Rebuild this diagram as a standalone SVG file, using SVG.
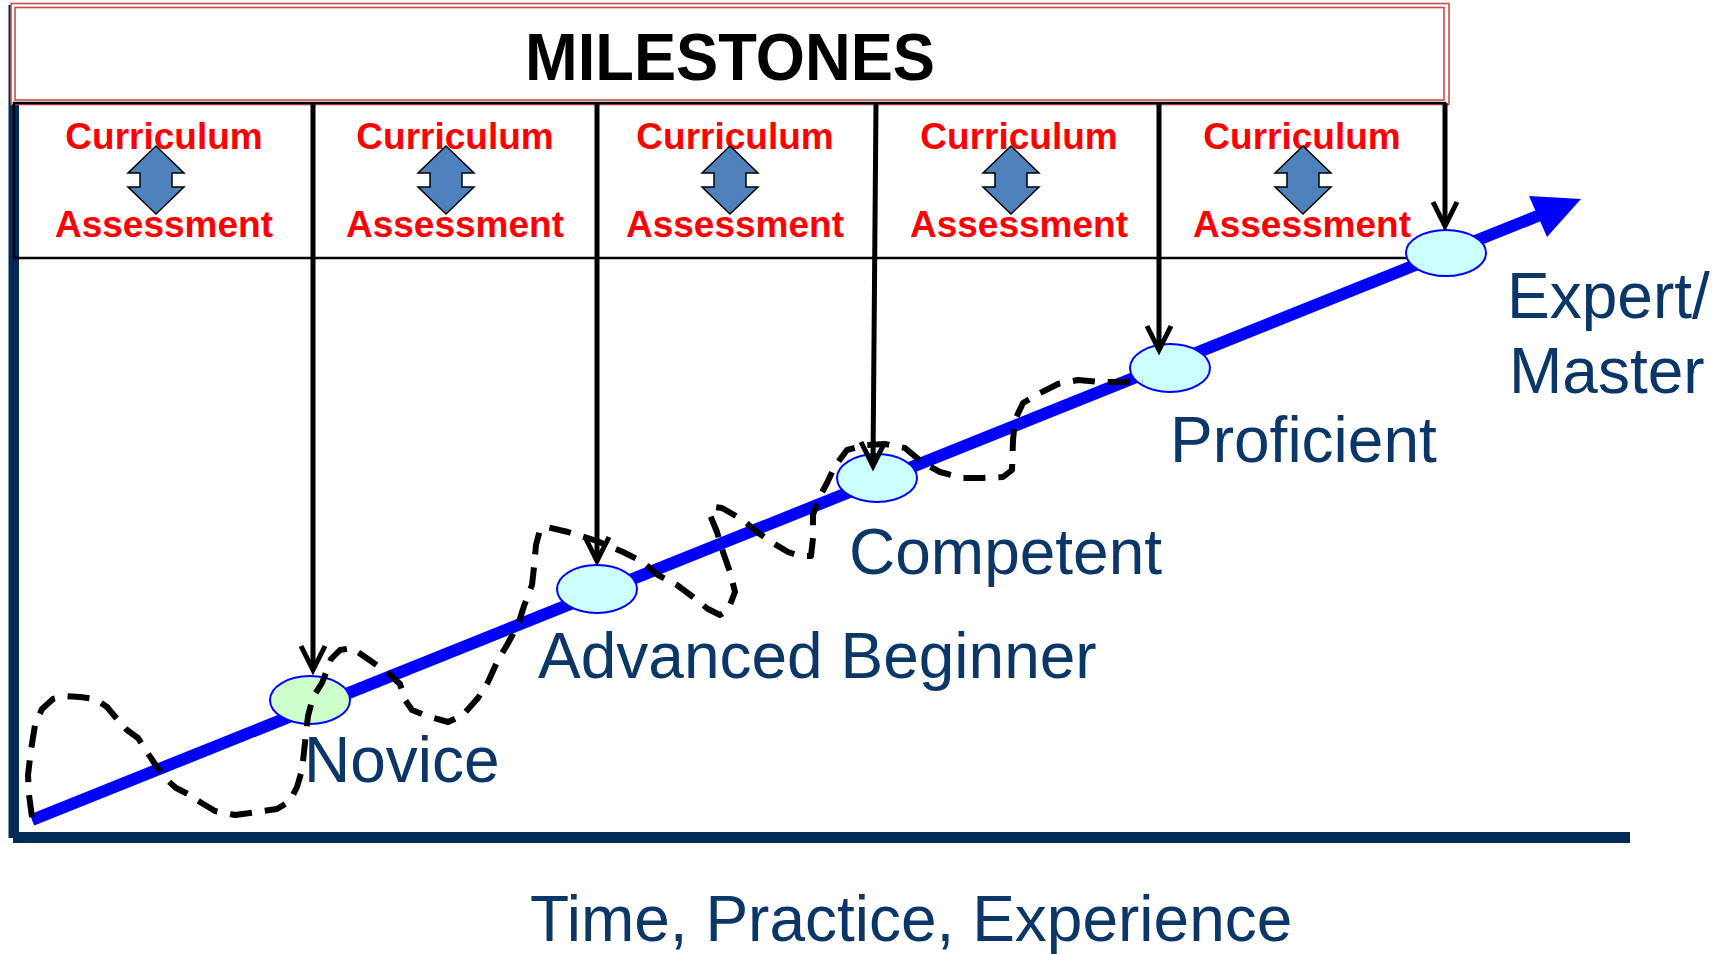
<svg xmlns="http://www.w3.org/2000/svg" width="1723" height="954" viewBox="0 0 1723 954">
<defs>
<style>
.navy{fill:#022a56}
.red{fill:none;stroke:#c0504d;stroke-width:1.6}
.cur{font-family:"Liberation Sans",Arial,sans-serif;font-weight:bold;font-size:37px;fill:#ff0000;text-anchor:middle}
.lbl{font-family:"Liberation Sans",Arial,sans-serif;font-size:64px;fill:#0a3668}
.dbl{fill:#4f81bd;stroke:#000;stroke-width:1.5;stroke-linejoin:miter}
.stage{fill:#ccffff;stroke:#0000ff;stroke-width:2}
.vline{stroke:#000;stroke-width:5;fill:none}
.vhead{stroke:#000;stroke-width:5;fill:none;stroke-linejoin:miter}
.dash{fill:none;stroke:#000;stroke-width:6;stroke-dasharray:22 13;stroke-linejoin:round}
</style>
<path id="dbl" d="M0,0 L28,27 L16,27 L16,41 L28,41 L0,68 L-28,41 L-16,41 L-16,27 L-28,27 Z"/>
</defs>
<rect width="1723" height="954" fill="#ffffff"/>

<g id="axes">
<rect class="navy" x="8.5" y="5" width="10.5" height="833"/>
<rect class="navy" x="13" y="832" width="1617" height="11"/>
</g>

<g id="header">
<rect x="11" y="3.5" width="1438" height="100.5" fill="#ffffff" stroke="none"/>
<rect class="red" x="11" y="3.5" width="1438" height="101"/>
<rect class="red" x="15" y="7.5" width="1429" height="92.5"/>
<text x="730" y="80" text-anchor="middle" textLength="410" lengthAdjust="spacingAndGlyphs" font-family="Liberation Sans, Arial, sans-serif" font-weight="bold" font-size="66" fill="#000000">MILESTONES</text>
</g>

<g id="cell-row">
<rect x="14" y="103" width="1431" height="155" fill="none" stroke="#000" stroke-width="2.5"/>
</g>

<g id="cell-1">
<text class="cur" x="164" y="149">Curriculum</text>
<use href="#dbl" class="dbl" x="156" y="146"/>
<text class="cur" x="164" y="237">Assessment</text>
</g>
<g id="cell-2">
<text class="cur" x="455" y="149">Curriculum</text>
<use href="#dbl" class="dbl" x="446" y="146"/>
<text class="cur" x="455" y="237">Assessment</text>
</g>
<g id="cell-3">
<text class="cur" x="735" y="149">Curriculum</text>
<use href="#dbl" class="dbl" x="730" y="146"/>
<text class="cur" x="735" y="237">Assessment</text>
</g>
<g id="cell-4">
<text class="cur" x="1019" y="149">Curriculum</text>
<use href="#dbl" class="dbl" x="1011" y="146"/>
<text class="cur" x="1019" y="237">Assessment</text>
</g>
<g id="cell-5">
<text class="cur" x="1302" y="149">Curriculum</text>
<use href="#dbl" class="dbl" x="1303" y="146"/>
<text class="cur" x="1302" y="237">Assessment</text>
</g>

<g id="connectors">
<g id="progress-line">
<line x1="32" y1="820" x2="1540" y2="215" stroke="#0000ff" stroke-width="12"/>
<polygon points="1581,199 1529,196 1547,237" fill="#0000ff"/>
</g>
</g>

<g id="stage-novice">
<ellipse class="stage" cx="310" cy="700" rx="40" ry="24" style="fill:#ccffcc"/>
<text class="lbl" x="304" y="782">Novice</text>
</g>
<g id="stage-advanced">
<ellipse class="stage" cx="597" cy="589" rx="40" ry="24"/>
<text class="lbl" x="538" y="678">Advanced Beginner</text>
</g>
<g id="stage-competent">
<ellipse class="stage" cx="877" cy="478" rx="40" ry="24"/>
<text class="lbl" x="849" y="574">Competent</text>
</g>
<g id="stage-proficient">
<ellipse class="stage" cx="1170" cy="368" rx="40" ry="24"/>
<text class="lbl" x="1170" y="462">Proficient</text>
</g>
<g id="stage-expert">
<ellipse class="stage" cx="1446" cy="253" rx="40" ry="23"/>
<text class="lbl" x="1507" y="318">Expert/</text>
<text class="lbl" x="1509" y="393">Master</text>
</g>

<g id="axis-label">
<text class="lbl" x="530" y="941">Time, Practice, Experience</text>
</g>

<g id="connectors-2">
<path class="dash" d="M32,817 L29,795 L28,775 L31,750 L35,725 L42,709 L53,699 L65,696 L80,697 L95,699 L107,707 L117,719 L127,730 L138,738 L147,752 L157,767 L167,780 L176,788 L188,794 L200,802 L215,811 L235,815 L257,812 L277,809 L290,801 L297,787 L302,770 L304,752 L306,733 L308,716 L313,697 L322,683 L327,670 L331,659 L340,650 L352,648 L368,659 L388,673 L400,684 L405,700 L412,710 L427,716 L448,722 L463,715 L478,698 L488,682 L498,660 L507,645 L518,625 L524,606 L532,585 L534,567 L536,545 L540,530 L547,527 L568,532 L597,541 L623,552 L643,562 L658,575 L677,585 L693,597 L708,609 L720,615 L728,610 L735,592 L730,572 L723,552 L717,532 L710,515 L714,507 L722,508 L743,520 L757,532 L773,543 L788,552 L800,556 L811,556 L813,538 L813,515 L818,500 L827,483 L835,466 L847,450 L865,445 L885,444 L905,448 L923,463 L940,472 L962,478 L982,478 L1003,477 L1012,470 L1013,440 L1015,420 L1023,403 L1040,393 L1058,384 L1078,380 L1102,382 L1143,382"/>
<g id="milestone-arrows">
<line class="vline" x1="313" y1="103" x2="313" y2="668"/>
<polyline class="vhead" points="301,646 313,670 325,646"/>
<line class="vline" x1="597" y1="103" x2="597" y2="559"/>
<polyline class="vhead" points="585,537 597,561 609,537"/>
<line class="vline" x1="876" y1="103" x2="873" y2="464"/>
<polyline class="vhead" points="861,442 873,466 885,442"/>
<line class="vline" x1="1159" y1="103" x2="1159" y2="348"/>
<polyline class="vhead" points="1147,326 1159,350 1171,326"/>
<line class="vline" x1="1445" y1="103" x2="1445" y2="224"/>
<polyline class="vhead" points="1433,202 1445,226 1457,202"/>
</g>
</g>
</svg>
